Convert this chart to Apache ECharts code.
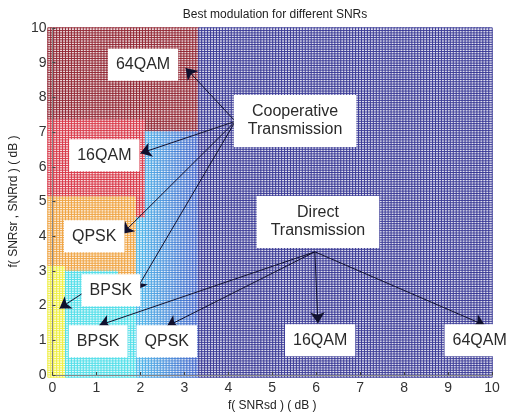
<!DOCTYPE html>
<html><head><meta charset="utf-8">
<script src="https://cdn.jsdelivr.net/npm/echarts@6/dist/echarts.min.js"></script>
<style>html,body{margin:0;padding:0;background:#fff}#c{width:510px;height:417px}</style>
</head><body><div id="c"></div>
<script>
// ---- data ----
const titleText = 'Best modulation for different SNRs';
const xAxisName = 'f( SNRsd ) ( dB )';
const yAxisName = 'f( SNRsr , SNRrd ) ( dB )';
const xTicks = [0,1,2,3,4,5,6,7,8,9,10];
const yTicks = [0,1,2,3,4,5,6,7,8,9,10];
const meshStep = 1/15;
// region levels: 0 direct 16/64QAM, 1 direct QPSK, 2 direct BPSK, 3 coop BPSK, 4 coop QPSK, 5 coop 16QAM, 6 coop 64QAM
const regionNames = ['Direct 16QAM/64QAM','Direct QPSK','Direct BPSK','Coop BPSK','Coop QPSK','Coop 16QAM','Coop 64QAM'];
// region rectangles (painted in order, later ones on top)
const rectX0 =    [0,  2.0, 0,   0,   1.6, 0,    0,   2.0, 0,   2.2];
const rectX1 =    [10, 3.4, 2.0, 2.0, 2.0, 0.38, 2.2, 2.2, 2.2, 3.4];
const rectY0 =    [0,  0,   0,   3.1, 2.9, 0,    5.2, 4.6, 7.4, 7.1];
const rectY1 =    [10, 7.1, 3.1, 5.2, 3.1, 3.2,  7.4, 5.2, 10,  10];
const rectLevel = [0,  1,   2,   4,   4,   3,    5,   5,   6,   6];
// annotation boxes
const labelText = ['64QAM','Cooperative\nTransmission','16QAM','QPSK','BPSK','BPSK','QPSK','Direct\nTransmission','16QAM','64QAM'];
const labelX =    [2.06, 5.52, 1.18, 0.95, 1.33, 1.04, 2.6, 6.04, 6.09, 9.72];
const labelY =    [8.94, 7.32, 6.33, 4.0,  2.44, 0.97, 0.97, 4.41, 1.0, 1.0];
// arrows
const arrowFromX = [4.16, 4.16, 4.16, 4.16, 0.68, 5.97, 5.97, 5.97, 5.97];
const arrowFromY = [7.31, 7.31, 7.31, 7.31, 2.35, 3.55, 3.55, 3.55, 3.55];
const arrowToX =   [3.03, 2.0,  1.59, 1.9,  0.16, 6.04, 9.84, 1.06, 2.6];
const arrowToY =   [8.85, 6.39, 4.07, 2.44, 1.92, 1.49, 1.43, 1.43, 1.4];

// ---- styling ----
const levelColors = ['#26268c', null, '#3fdbe6', '#eeee30', '#ee9a30', '#d42436', '#86101e'];
function hex(c){return [parseInt(c.substr(1,2),16),parseInt(c.substr(3,2),16),parseInt(c.substr(5,2),16)];}
function mix(a,b,t){const A=hex(a),B=hex(b);return 'rgb('+A.map((v,i)=>Math.round(v+(B[i]-v)*t)).join(',')+')';}
function mixHex(a,b,t){const A=hex(a),B=hex(b);return '#'+A.map((v,i)=>Math.round(v+(B[i]-v)*t).toString(16).padStart(2,'0')).join('');}

const n = Math.round(10/meshStep);
const cats = Array.from({length:n},(_,i)=>i);
const cells = [];
for (let i=0;i<n;i++){
  const cx=(i+0.5)*meshStep;
  for (let j=0;j<n;j++){
    const cy=(j+0.5)*meshStep;
    let lvl=0;
    for (let k=0;k<rectLevel.length;k++){
      if (cx>=rectX0[k]&&cx<rectX1[k]&&cy>=rectY0[k]&&cy<rectY1[k]) lvl=rectLevel[k];
    }
    let line = levelColors[lvl];
    if (lvl===1){ const t=Math.min(1,Math.max(0,(cx-2)/1.4)); line=mixHex('#40b4ea','#2f54c4',t); }
    cells.push({value:[i,j,lvl], itemStyle:{color:mix(line,'#ffffff',0.86), borderColor:line, borderWidth:0.8}});
  }
}

const font = 'Liberation Sans, Arial, Helvetica, sans-serif';
const chart = echarts.init(document.getElementById('c'));
chart.setOption({
  animation:false,
  backgroundColor:'#fff',
  title:{text:titleText,left:270,textAlign:'center',top:4,textStyle:{fontSize:12,fontWeight:'normal',color:'#222',fontFamily:font}},
  grid:[
    {left:48,right:18,top:28,bottom:40},
    {left:48,right:18,top:28,bottom:40}
  ],
  xAxis:[
    {type:'category',gridIndex:0,data:cats,show:false},
    {type:'value',gridIndex:1,min:0,max:10,interval:1,z:6,
     name:xAxisName,nameLocation:'middle',nameGap:25,nameTextStyle:{fontSize:12,color:'#222',fontFamily:font},
     axisLine:{show:true,lineStyle:{color:'#888'}},axisTick:{show:true,inside:true,length:3,lineStyle:{color:'#444'}},
     splitLine:{show:false},
     axisLabel:{fontSize:14,color:'#333',fontFamily:font,margin:6,formatter:v=>xTicks.includes(v)?String(v):''}}
  ],
  yAxis:[
    {type:'category',gridIndex:0,data:cats,show:false},
    {type:'value',gridIndex:1,min:0,max:10,interval:1,z:6,
     name:yAxisName,nameLocation:'middle',nameGap:28,nameTextStyle:{fontSize:12,color:'#222',fontFamily:font},
     axisLine:{show:true,lineStyle:{color:'#888'}},axisTick:{show:true,inside:true,length:3,lineStyle:{color:'#444'}},
     splitLine:{show:false},
     axisLabel:{fontSize:14,color:'#333',fontFamily:font,margin:6,formatter:v=>yTicks.includes(v)?String(v):''}}
  ],
  series:[
    {type:'heatmap',xAxisIndex:0,yAxisIndex:0,data:cells,progressive:0,emphasis:{disabled:true},z:1},
    {type:'lines',coordinateSystem:'cartesian2d',xAxisIndex:1,yAxisIndex:1,z:8,
     symbol:['none','arrow'],symbolSize:[0,11],
     lineStyle:{color:'#10102e',width:1,opacity:1,curveness:0},
     data:arrowFromX.map((x,i)=>({coords:[[x,arrowFromY[i]],[arrowToX[i],arrowToY[i]]]}))},
    {type:'scatter',xAxisIndex:1,yAxisIndex:1,z:10,symbolSize:1,itemStyle:{color:'rgba(0,0,0,0)',opacity:1},silent:true,
     emphasis:{disabled:true},
     data:labelX.map((x,i)=>({value:[x,labelY[i]],name:labelText[i],
       label:{padding:labelText[i].includes('\n')?[8,14]:[7,8]}})),
     label:{show:true,position:'inside',formatter:p=>p.name,fontSize:16,lineHeight:18,color:'#2a2a2a',fontFamily:font,
       backgroundColor:'#ffffff',opacity:1,align:'center',verticalAlign:'middle'}}
  ]
});
</script></body></html>
